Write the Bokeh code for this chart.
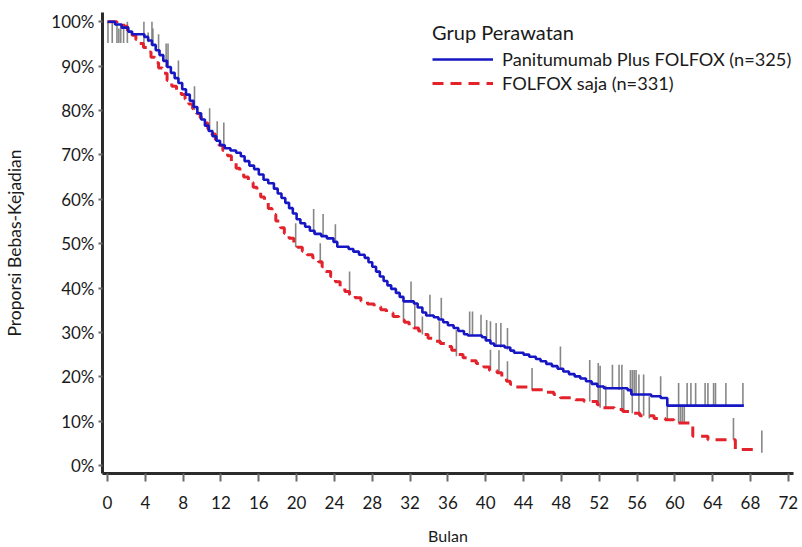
from bokeh.plotting import figure
from bokeh.models import Range1d, FixedTicker, Legend, LegendItem
from bokeh.embed import file_html
from bokeh.resources import INLINE

# ---------------- data ----------------
x_ticks = list(range(0, 73, 4))
y_ticks = [0, 10, 20, 30, 40, 50, 60, 70, 80, 90, 100]

pan_label = "Panitumumab Plus FOLFOX (n=325)"
fol_label = "FOLFOX saja (n=331)"
legend_title = "Grup Perawatan"

pan_t = [0, 0.8, 1.5, 2.2, 2.6, 3.9, 4.3, 4.7, 5.1, 5.5, 5.9, 6.3, 6.7, 7.1, 7.5, 7.9,
         8.3, 8.7, 9.1, 9.5, 9.9, 10.3, 10.7, 11.1, 11.5, 11.9, 12.4, 13.0, 13.6, 14.1,
         14.5, 15.0, 15.5, 16.0, 16.5, 17.0, 17.6, 18.0, 18.4, 18.8, 19.2, 19.6, 20.0,
         20.4, 20.9, 21.4, 21.9, 22.6, 23.2, 23.9, 24.3, 25.5, 26.0, 26.6, 27.2, 27.6,
         28.0, 28.4, 28.8, 29.2, 29.6, 30.0, 30.5, 30.9, 31.3, 32.4, 32.8, 33.3, 33.7,
         34.5, 35.0, 35.5, 36.0, 36.6, 37.1, 37.7, 38.1, 39.6, 40.0, 40.5, 40.9, 42.0,
         42.6, 43.0, 44.0, 44.6, 45.3, 45.8, 46.4, 47.0, 47.6, 48.2, 48.8, 49.4, 50.0,
         50.6, 51.2, 51.8, 52.5, 55.0, 55.4, 57.5, 58.5, 59.2, 67.3]
pan_s = [100, 99.4, 98.7, 97.8, 97.2, 96.6, 95.8, 94.8, 93.6, 92.5, 91.2, 89.8, 88.5, 87.3,
         86.2, 84.8, 83.6, 82.2, 80.8, 79.4, 78.0, 76.6, 75.4, 74.2, 73.2, 72.2, 71.5,
         71.0, 70.5, 69.7, 68.6, 67.6, 66.8, 65.6, 64.4, 63.6, 62.4, 61.3, 60.3, 59.2,
         58.0, 56.8, 55.5, 54.6, 53.8, 52.9, 52.2, 51.7, 51.2, 50.4, 49.3, 48.8, 48.2,
         47.5, 46.8, 45.8, 44.8, 43.7, 42.6, 41.6, 40.6, 39.8, 38.9, 38.0, 37.0, 36.5,
         35.6, 34.5, 33.8, 33.4, 32.9, 32.3, 31.6, 31.0, 30.3, 29.6, 29.3, 28.9, 28.2,
         27.5, 27.0, 26.6, 25.9, 25.4, 25.0, 24.5, 24.0, 23.5, 22.9, 22.4, 21.8, 21.2,
         20.6, 20.1, 19.6, 19.0, 18.4, 17.8, 17.4, 17.0, 16.0, 15.6, 15.2, 13.5, 13.5]

fol_t = [0, 1.0, 1.7, 2.1, 2.6, 3.0, 3.4, 3.8, 4.2, 4.6, 5.0, 5.4, 5.8, 6.3, 6.8, 7.3, 7.8,
         8.2, 8.6, 9.0, 9.4, 9.8, 10.2, 10.6, 11.0, 11.4, 11.8, 12.2, 12.7, 13.1, 13.6,
         14.0, 14.4, 14.9, 15.4, 15.8, 16.2, 16.6, 17.0, 17.4, 17.8, 18.3, 18.7, 19.2,
         19.7, 20.1, 20.6, 21.1, 21.7, 22.3, 22.7, 23.1, 23.6, 24.1, 24.6, 25.1, 25.6,
         26.2, 26.8, 27.5, 28.2, 28.9, 29.5, 30.2, 30.8, 31.4, 31.9, 32.4, 32.9, 33.4,
         33.9, 34.6, 35.2, 35.8, 36.4, 37.0, 37.6, 38.3, 39.0, 39.8, 40.4, 41.2, 41.7,
         42.2, 42.6, 43.0, 44.7, 46.1, 47.2, 47.9, 49.5, 50.4, 51.8, 52.2, 53.6, 54.5,
         55.3, 56.3, 57.8, 59.0, 59.9, 61.9, 63.5, 66.4, 68.4]
fol_s = [100, 99.6, 99.0, 97.6, 97.0, 96.0, 95.1, 94.2, 93.2, 92.0, 90.8, 89.6, 88.4, 86.8,
         85.5, 84.4, 83.6, 82.6, 81.5, 80.4, 79.4, 78.4, 77.2, 75.9, 74.7, 73.5, 72.2,
         71.0, 69.8, 68.4, 67.0, 66.0, 65.0, 63.8, 62.7, 61.6, 60.5, 59.2, 57.9, 56.6,
         55.1, 53.6, 52.3, 51.2, 50.2, 49.2, 48.3, 47.5, 46.8, 45.9, 44.8, 43.7, 42.6,
         41.4, 40.2, 39.2, 38.5, 37.8, 37.1, 36.4, 35.8, 35.1, 34.4, 33.6, 32.8, 32.3,
         31.6, 31.0, 30.3, 29.5, 28.7, 28.0, 27.5, 26.8, 26.0, 25.0, 24.3, 23.6, 23.0,
         22.2, 21.4, 20.9, 20.0, 19.0, 18.3, 17.7, 17.1, 16.5, 16.0, 15.3, 14.8, 14.4,
         13.7, 13.0, 12.6, 12.2, 11.8, 11.2, 10.6, 10.3, 9.6, 6.6, 5.8, 3.6, 3.0]

# censoring marks: time, lower and upper end (%)
cens_t = [0.05, 0.5, 1.0, 1.2, 1.4, 1.7, 2.1, 3.85, 4.3, 4.7, 4.8, 5.4, 6.2, 6.4, 7.5, 9.2,
          10.8, 11.6, 12.3, 19.9, 21.8, 22.5, 22.8, 24.1, 25.6, 31.3, 32.1, 32.5, 33.3,
          34.1, 35.1, 35.3, 36.9, 38.3, 38.6, 39.5, 40.1, 40.5, 41.1, 41.6, 42.3, 40.5,
          41.4, 42.3, 44.9, 47.9, 51.0, 51.9, 52.1, 52.7, 53.4, 54.1, 54.4, 54.6, 55.3,
          55.5, 55.7, 55.9, 56.2, 56.7, 57.3, 58.5, 59.2, 60.4, 60.6, 60.8, 61.0, 61.3,
          61.7, 62.2, 63.2, 63.5, 64.1, 64.3, 65.4, 66.2, 67.2, 69.2]
cens_lo = [95.2, 95.2, 95.2, 95.2, 95.2, 95.2, 95.2, 95.2, 95.4, 95.4, 94.5, 92.9, 89.8,
           89.8, 86.1, 80.1, 75.2, 73.3, 72.5, 49.2, 52.3, 45.5, 51.8, 50.4, 38.5, 32.3,
           36.6, 31.0, 29.5, 33.6, 27.5, 32.8, 24.6, 29.5, 29.3, 29.1, 28.2, 27.5, 26.8,
           26.6, 26.1, 21.4, 20.9, 19.0, 17.1, 21.6, 14.4, 14.1, 13.0, 13.0, 17.4, 17.0,
           12.2, 12.2, 16.5, 11.8, 16.2, 16.0, 11.2, 11.2, 10.6, 15.2, 10.3, 9.6, 9.6,
           9.6, 9.6, 13.5, 13.5, 13.5, 13.5, 13.5, 13.5, 13.5, 13.5, 5.8, 13.5, 2.9]
cens_hi = [100, 100, 99.5, 98.5, 99.0, 99.5, 100, 100, 97.6, 100, 98.5, 97.2, 95.1, 95.1,
           91.3, 85.5, 80.5, 77.6, 77.3, 54.6, 57.8, 50.1, 56.7, 54.4, 43.7, 37.3, 41.5,
           36.6, 33.6, 38.5, 32.5, 37.8, 30.6, 34.7, 34.7, 34.0, 32.8, 32.5, 32.1, 32.1,
           31.0, 26.1, 26.0, 23.5, 22.0, 26.8, 23.8, 23.1, 22.5, 18.0, 22.7, 22.7, 22.7,
           17.0, 21.5, 21.5, 21.5, 21.5, 20.5, 20.5, 15.6, 20.1, 15.0, 18.6, 13.5, 13.5,
           13.5, 18.6, 18.6, 18.6, 18.6, 18.6, 18.6, 18.6, 18.6, 10.7, 18.6, 7.9]

# ---------------- figure ----------------
FONT = "Lato"
p = figure(width=802, height=547, output_backend="svg", toolbar_location=None,
           x_range=Range1d(-0.53, 72.55), y_range=Range1d(-1.8, 102.1),
           min_border_left=102, min_border_right=9, min_border_top=12, min_border_bottom=73)
p.outline_line_color = None
p.grid.visible = False
p.background_fill_color = "white"
p.border_fill_color = "white"

p.segment(x0=cens_t, y0=cens_lo, x1=cens_t, y1=cens_hi, line_color="#7a7a7a",
          line_width=1.6, line_alpha=0.9)

r_fol = p.step(fol_t, fol_s, mode="after", line_color="#e3222b", line_width=3,
               line_dash="11 7")
r_pan = p.step(pan_t, pan_s, mode="after", line_color="#1616c4", line_width=2.6)

for ax in (p.xaxis[0], p.yaxis[0]):
    ax.axis_line_width = 3
    ax.axis_line_color = "#2b2b2b"
    ax.major_tick_line_color = "#6a6a6a"
    ax.major_tick_line_width = 2
    ax.minor_tick_line_color = None
    ax.major_label_text_font = FONT
    ax.major_label_text_font_size = "17px"
    ax.major_label_text_color = "#1a1a1a"
    ax.axis_label_text_font = FONT
    ax.axis_label_text_font_style = "normal"
    ax.axis_label_text_color = "#1a1a1a"

p.xaxis.ticker = FixedTicker(ticks=x_ticks)
p.xaxis.major_tick_in = 0
p.xaxis.major_tick_out = 8
p.xaxis.major_label_standoff = 14
p.xaxis.axis_label = "Bulan"
p.xaxis.axis_label_text_font_size = "16px"
p.xaxis.axis_label_standoff = 14

p.yaxis.ticker = FixedTicker(ticks=y_ticks)
p.yaxis.major_label_overrides = {v: f"{v}%" for v in y_ticks}
p.yaxis.major_tick_in = 0
p.yaxis.major_tick_out = 4
p.yaxis.major_label_standoff = 4
p.yaxis.axis_label = "Proporsi Bebas-Kejadian"
p.yaxis.axis_label_text_font_size = "17.5px"
p.yaxis.axis_label_standoff = 23

legend = Legend(items=[LegendItem(label=pan_label, renderers=[r_pan]),
                       LegendItem(label=fol_label, renderers=[r_fol])],
                location=(330, 379), title=legend_title)
legend.title_text_font = FONT
legend.title_text_font_size = "20px"
legend.title_text_font_style = "normal"
legend.title_text_color = "#1a1a1a"
legend.title_standoff = 4
legend.label_text_font = FONT
legend.label_text_font_size = "18.2px"
legend.label_text_color = "#1a1a1a"
legend.glyph_width = 61
legend.glyph_height = 20
legend.label_height = 20
legend.label_standoff = 9
legend.spacing = 2
legend.padding = 2
legend.margin = 0
legend.border_line_color = None
legend.background_fill_alpha = 0
p.add_layout(legend)

open("out.html", "w").write(file_html(p, INLINE))
